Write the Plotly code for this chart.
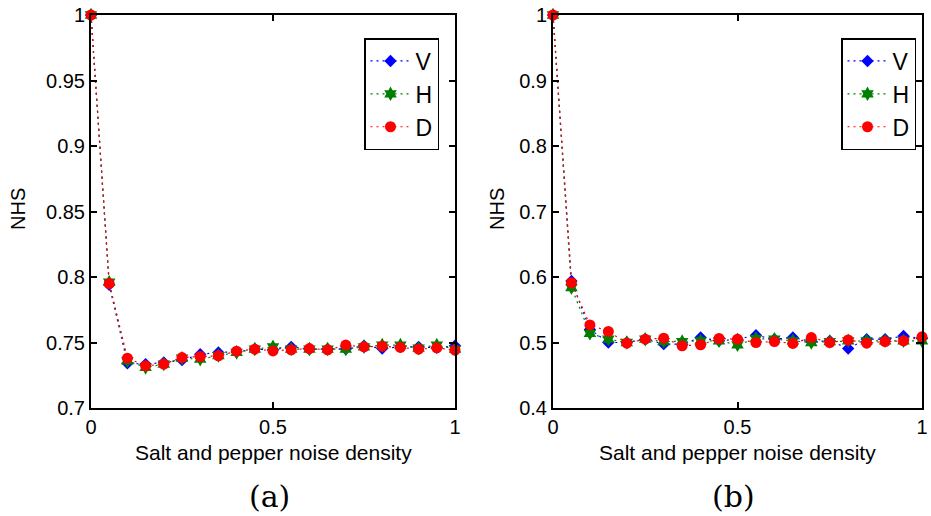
import plotly.graph_objects as go

x = [round(i * 0.05, 2) for i in range(21)]

# Panel (a)
a_V = [1.0, 0.794, 0.7342, 0.7335, 0.7347, 0.7365, 0.741, 0.7424, 0.7429, 0.745, 0.7444,
       0.7467, 0.745, 0.745, 0.745, 0.7475, 0.7454, 0.7467, 0.7467, 0.746, 0.7475]
a_H = [1.0, 0.796, 0.736, 0.731, 0.7335, 0.738, 0.7373, 0.740, 0.7424, 0.745, 0.7467,
       0.745, 0.745, 0.745, 0.745, 0.7467, 0.748, 0.748, 0.7457, 0.748, 0.745]
a_D = [1.0, 0.795, 0.738, 0.7322, 0.7335, 0.7385, 0.7393, 0.7398, 0.7434, 0.7449, 0.7436,
       0.7444, 0.7454, 0.7444, 0.748, 0.7467, 0.7472, 0.7462, 0.7449, 0.7459, 0.7441]

# Panel (b)
b_V = [1.0, 0.594, 0.520, 0.500, 0.500, 0.505, 0.4975, 0.4975, 0.5076, 0.5025, 0.505,
       0.511, 0.505, 0.5076, 0.5015, 0.5025, 0.4909, 0.505, 0.505, 0.510, 0.506]
b_H = [1.0, 0.5838, 0.514, 0.505, 0.500, 0.505, 0.5015, 0.5015, 0.5025, 0.5025, 0.4964,
       0.506, 0.505, 0.5025, 0.500, 0.5015, 0.5025, 0.5025, 0.5025, 0.5025, 0.5025]
b_D = [1.0, 0.5914, 0.5269, 0.5168, 0.499, 0.505, 0.5066, 0.495, 0.4964, 0.5061, 0.505,
       0.500, 0.5015, 0.4985, 0.5076, 0.500, 0.504, 0.499, 0.5015, 0.5025, 0.5086]

names = ["V", "H", "D"]
colors = ["#0000ff", "#008000", "#ff0000"]
symbols = ["diamond", "hexagram", "circle"]
sizes = [9.5, 11, 11]

x_ticks = [0, 0.5, 1]
x_ticklabels = ["0", "0.5", "1"]
a_yticks = [0.7, 0.75, 0.8, 0.85, 0.9, 0.95, 1.0]
a_yticklabels = ["0.7", "0.75", "0.8", "0.85", "0.9", "0.95", "1"]
b_yticks = [0.4, 0.5, 0.6, 0.7, 0.8, 0.9, 1.0]
b_yticklabels = ["0.4", "0.5", "0.6", "0.7", "0.8", "0.9", "1"]

xlabel = "Salt and pepper noise density"
ylabel = "NHS"
panel_labels = ["(a)", "(b)"]

SANS = "Liberation Sans, Arial, Helvetica, sans-serif"

fig = go.Figure()

for panel, (series, xa, ya, leg) in enumerate([
        ([a_V, a_H, a_D], "x", "y", "legend"),
        ([b_V, b_H, b_D], "x2", "y2", "legend2")]):
    for i, ys in enumerate(series):
        fig.add_trace(go.Scatter(
            x=x, y=ys, name=names[i], xaxis=xa, yaxis=ya, legend=leg,
            legendgroup=f"{leg}_{names[i]}",
            mode="lines+markers", cliponaxis=False,
            line=dict(color=colors[i], width=1.2, dash="2px,4px"),
            marker=dict(color=colors[i], symbol=symbols[i], size=sizes[i],
                        line=dict(width=0)),
        ))

axis_common = dict(showline=True, linecolor="black", linewidth=2, mirror="ticks",
                   ticks="inside", ticklen=6, tickwidth=1.5, tickcolor="black",
                   showgrid=False, zeroline=False, automargin=False,
                   tickfont=dict(family=SANS, size=20, color="black"))

legend_common = dict(xanchor="left", yanchor="top",
                     bgcolor="white", bordercolor="black", borderwidth=1.5,
                     font=dict(family=SANS, size=23, color="black"),
                     itemwidth=40, tracegroupgap=0)

fig.update_layout(
    template="none",
    width=931, height=516,
    margin=dict(l=0, r=0, t=0, b=0, autoexpand=False),
    paper_bgcolor="white", plot_bgcolor="white",
    xaxis=dict(domain=[91 / 931, 455 / 931], range=[0, 1], anchor="y",
               tickvals=x_ticks, ticktext=x_ticklabels, **axis_common),
    yaxis=dict(domain=[1 - 408 / 516, 1 - 15 / 516], range=[0.7, 1.0], anchor="x",
               tickvals=a_yticks, ticktext=a_yticklabels, **axis_common),
    xaxis2=dict(domain=[553 / 931, 922 / 931], range=[0, 1], anchor="y2",
                tickvals=x_ticks, ticktext=x_ticklabels, **axis_common),
    yaxis2=dict(domain=[1 - 408 / 516, 1 - 15 / 516], range=[0.4, 1.0], anchor="x2",
                tickvals=b_yticks, ticktext=b_yticklabels, **axis_common),
    legend=dict(x=364 / 931, y=1 - 38 / 516, **legend_common),
    legend2=dict(x=841 / 931, y=1 - 38 / 516, **legend_common),
    showlegend=True,
)

label_font = dict(family=SANS, size=21, color="black")
for cx in [273, 737]:
    fig.add_annotation(text=xlabel, x=cx / 931, y=1 - 452 / 516, xref="paper", yref="paper",
                       showarrow=False, font=label_font, xanchor="center", yanchor="middle")
for cx in [18, 497]:
    fig.add_annotation(text=ylabel, x=cx / 931, y=1 - 209 / 516, xref="paper", yref="paper",
                       showarrow=False, font=dict(family=SANS, size=20, color="black"),
                       textangle=-90, xanchor="center", yanchor="middle")
for cx, lab in zip([269, 733], panel_labels):
    fig.add_annotation(text=lab, x=cx / 931, y=1 - 496 / 516, xref="paper", yref="paper",
                       showarrow=False, xanchor="center", yanchor="middle",
                       font=dict(family="DejaVu Serif, Liberation Serif, serif", size=30, color="black"))

fig.write_html("out.html")
